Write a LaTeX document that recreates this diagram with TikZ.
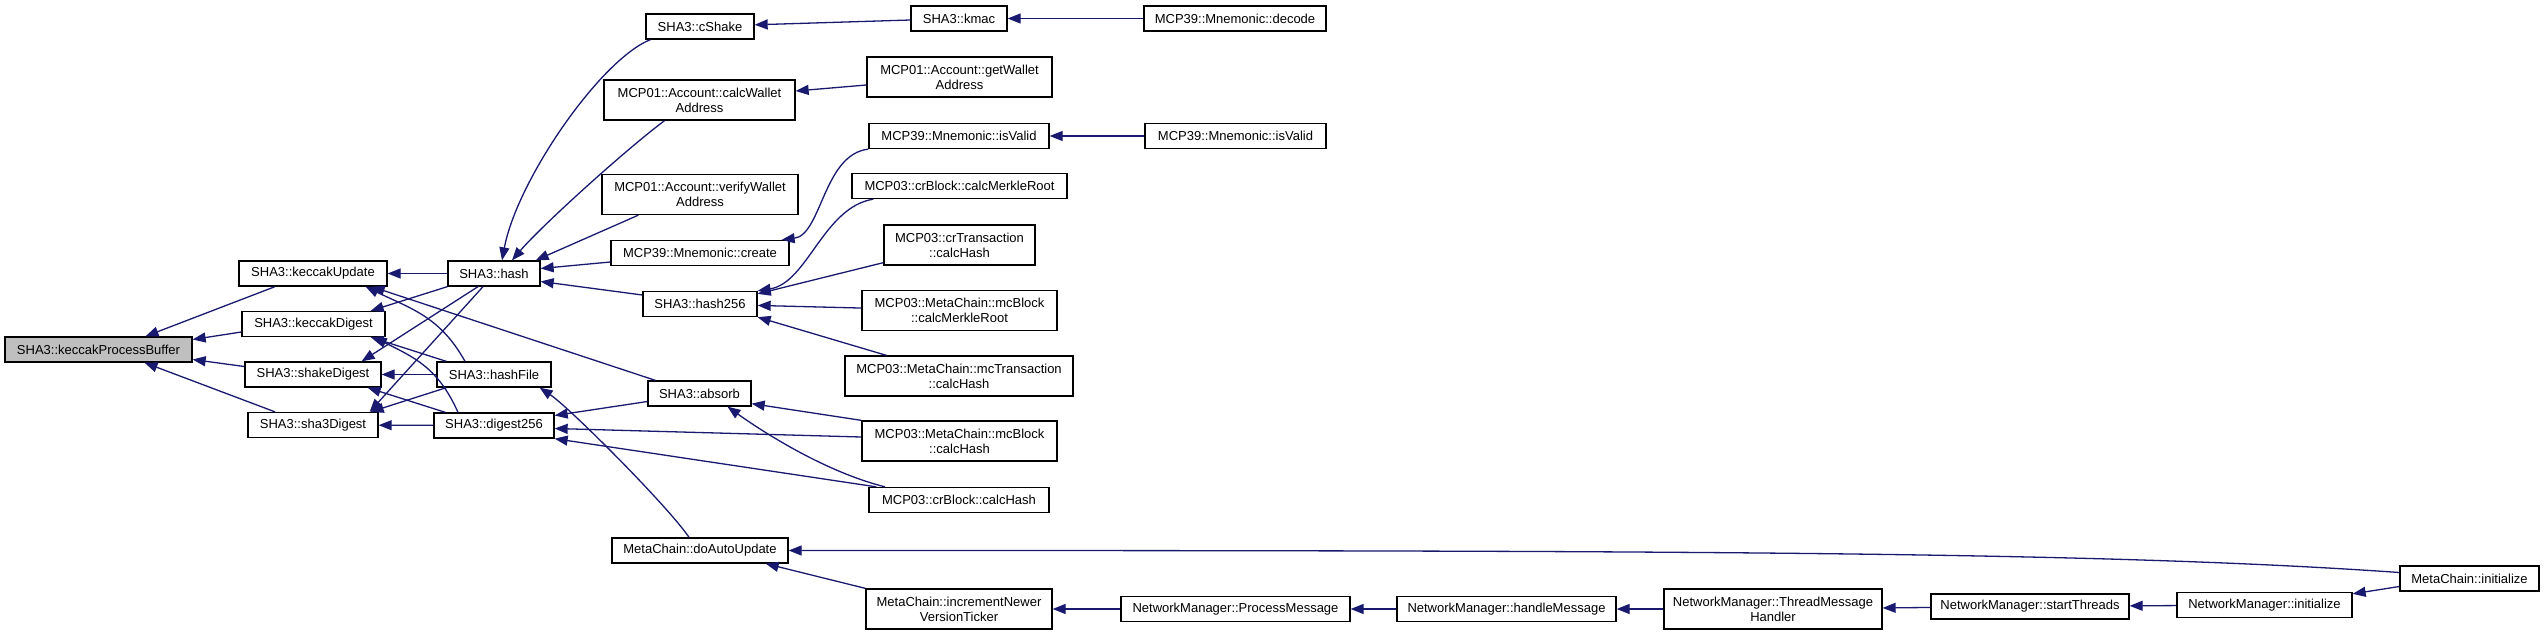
\documentclass[tikz,border=0pt]{standalone}
\usepackage{fontspec}
\setmainfont{Liberation Sans}
\usetikzlibrary{arrows.meta}
\definecolor{edgeblue}{RGB}{25,25,112}
\begin{document}
\begin{tikzpicture}[x=1pt,y=-1pt,
    fn/.style={draw=black,line width=1.3pt,fill=white,minimum height=25pt,inner sep=0pt,
      font=\fontsize{13}{15}\selectfont,align=center},
    fn2/.style={fn,minimum height=40pt},
    call/.style={draw=edgeblue,line width=1.3pt,-{Triangle[length=13pt,width=10pt]}}]
  \useasboundingbox (0,0) rectangle (2544,635);
  \node[fn,fill=gray!50,minimum width=187pt] (kpb) at (98.5,349.5) {SHA3::keccakProcessBuffer};
  \node[fn,minimum width=148pt] (kupd) at (313,273.5) {SHA3::keccakUpdate};
  \node[fn,minimum width=143pt] (kdig) at (313.5,324) {SHA3::keccakDigest};
  \node[fn,minimum width=136pt] (shk) at (313,374.5) {SHA3::shakeDigest};
  \node[fn,minimum width=130pt] (s3d) at (313,425) {SHA3::sha3Digest};
  \node[fn,minimum width=92pt] (hash) at (494,273.5) {SHA3::hash};
  \node[fn,minimum width=114pt] (hfile) at (494,374.5) {SHA3::hashFile};
  \node[fn,minimum width=120pt] (d256) at (494,425.5) {SHA3::digest256};
  \node[fn,minimum width=108pt] (cshake) at (700,26.5) {SHA3::cShake};
  \node[fn2,minimum width=191pt] (cwa) at (699.5,100) {MCP01::Account::calcWallet\\Address};
  \node[fn2,minimum width=196pt] (vwa) at (700,194.5) {MCP01::Account::verifyWallet\\Address};
  \node[fn,minimum width=178pt] (create) at (700,253) {MCP39::Mnemonic::create};
  \node[fn,minimum width=114pt] (h256) at (700,304) {SHA3::hash256};
  \node[fn,minimum width=103pt] (absorb) at (699.5,393.5) {SHA3::absorb};
  \node[fn,minimum width=176pt] (dau) at (700,550.5) {MetaChain::doAutoUpdate};
  \node[fn,minimum width=96pt] (kmac) at (959,18.5) {SHA3::kmac};
  \node[fn2,minimum width=185pt] (gwa) at (959.5,77) {MCP01::Account::getWallet\\Address};
  \node[fn,minimum width=180pt] (isv1) at (959,136) {MCP39::Mnemonic::isValid};
  \node[fn,minimum width=215pt] (crmr) at (959.5,186) {MCP03::crBlock::calcMerkleRoot};
  \node[fn2,minimum width=151pt] (crtx) at (959.5,245) {MCP03::crTransaction\\::calcHash};
  \node[fn2,minimum width=195pt] (mcmr) at (959.5,310.5) {MCP03::MetaChain::mcBlock\\::calcMerkleRoot};
  \node[fn2,minimum width=228pt] (mctx) at (959,376) {MCP03::MetaChain::mcTransaction\\::calcHash};
  \node[fn2,minimum width=195pt] (mcch) at (959.5,441) {MCP03::MetaChain::mcBlock\\::calcHash};
  \node[fn,minimum width=180pt] (crch) at (959,500) {MCP03::crBlock::calcHash};
  \node[fn2,minimum width=186pt] (inc) at (959,609) {MetaChain::incrementNewer\\VersionTicker};
  \node[fn,minimum width=182pt] (decode) at (1235,18.5) {MCP39::Mnemonic::decode};
  \node[fn,minimum width=181pt] (isv2) at (1235.5,136) {MCP39::Mnemonic::isValid};
  \node[fn,minimum width=229pt] (pmsg) at (1235.5,609) {NetworkManager::ProcessMessage};
  \node[fn,minimum width=219pt] (hmsg) at (1506.5,609) {NetworkManager::handleMessage};
  \node[fn2,minimum width=218pt] (tmh) at (1773,609) {NetworkManager::ThreadMessage\\Handler};
  \node[fn,minimum width=198pt] (sth) at (2030,606.5) {NetworkManager::startThreads};
  \node[fn,minimum width=175pt] (nmi) at (2264.5,605) {NetworkManager::initialize};
  \node[fn,minimum width=139pt] (mci) at (2469.5,578.5) {MetaChain::initialize};
  \draw[call] ([xshift=-38pt]kupd.south) -- ([xshift=47pt]kpb.north);
  \draw[call] ([yshift=-8pt]kdig.west) -- ([yshift=10pt]kpb.east);
  \draw[call] ([yshift=8pt]shk.west) -- ([yshift=-10pt]kpb.east);
  \draw[call] ([xshift=-38pt]s3d.north) -- ([xshift=46pt]kpb.south);
  \draw[call] (hash) -- (kupd);
  \draw[call] (hash.south west) -- ([xshift=-15pt]kdig.north east);
  \draw[call] ([xshift=-16pt]hash.south) -- ([xshift=-20pt]shk.north east);
  \draw[call] ([xshift=-11pt]hash.south) -- ([xshift=-9pt]s3d.north east);
  \draw[call] ([xshift=-29pt]hfile.north) .. controls +(-25,-45) and +(45,22) .. ([xshift=-22pt]kupd.south east);
  \draw[call] (hfile) -- (shk);
  \draw[call] ([xshift=10pt]hfile.north west) -- ([xshift=-15pt]kdig.south east);
  \draw[call] ([xshift=10pt]hfile.south west) -- ([xshift=-8pt]s3d.north east);
  \draw[call] ([xshift=-36pt]d256.north) .. controls +(-20,-45) and +(40,20) .. ([xshift=-12pt]kdig.south east);
  \draw[call] ([xshift=12pt]d256.north west) -- ([xshift=-14pt]shk.south east);
  \draw[call] (d256) -- (s3d);
  \draw[call] ([xshift=8pt]absorb.north west) -- ([xshift=-16pt]kupd.south east);
  \draw[call] ([yshift=-8pt]absorb.west) -- ([yshift=10pt]d256.east);
  \draw[call] (mcch.north west) -- ([yshift=3pt]absorb.south east);
  \draw[call] ([yshift=4pt]mcch.west) -- ([yshift=-3pt]d256.east);
  \draw[call] ([xshift=-74pt]crch.north) .. controls +(-60,-15) and +(35,25) .. ([xshift=28pt]absorb.south);
  \draw[call] ([xshift=8pt]crch.north west) -- (d256.south east);
  \draw[call] ([xshift=5pt]cshake.south west) .. controls +(-50,20) and +(15,-80) .. ([xshift=8pt]hash.north);
  \draw[call] ([xshift=-35pt]cwa.south) .. controls +(-40,30) and +(30,-35) .. ([xshift=18pt]hash.north);
  \draw[call] ([xshift=37pt]vwa.south west) -- ([xshift=-5pt]hash.north east);
  \draw[call] ([yshift=-9pt]create.west) -- ([yshift=5pt]hash.east);
  \draw[call] ([yshift=9pt]h256.west) -- ([yshift=-8pt]hash.east);
  \draw[call] (kmac) -- (cshake);
  \draw[call] (decode) -- (kmac);
  \draw[call] ([yshift=-8pt]gwa.west) -- ([yshift=9pt]cwa.east);
  \draw[call] (isv1.south west) .. controls +(-45,5) and +(40,-5) .. ([xshift=-8pt]create.north east);
  \draw[call] (isv2) -- (isv1);
  \draw[call] ([xshift=22pt]crmr.south west) .. controls +(-50,8) and +(50,-8) .. (h256.north east);
  \draw[call] ([yshift=3pt]crtx.south west) -- ([yshift=-3pt]h256.north east);
  \draw[call] (mcmr) -- (h256);
  \draw[call] ([xshift=42pt]mctx.north west) -- (h256.south east);
  \draw[call] ([xshift=-11pt]dau.north) .. controls +(-20,-30) and +(30,20) .. ([xshift=-12pt]hfile.south east);
  \draw[call] ([yshift=6pt]mci.west) .. controls +(-300,-21) and +(900,0) .. (dau.east);
  \draw[call] (inc.north west) -- ([xshift=-23pt]dau.south east);
  \draw[call] (pmsg) -- (inc);
  \draw[call] (hmsg) -- (pmsg);
  \draw[call] (tmh) -- (hmsg);
  \draw[call] (sth) -- (tmh);
  \draw[call] (nmi) -- (sth);
  \draw[call] ([yshift=-8pt]mci.west) -- ([yshift=-2pt]nmi.north east);
\end{tikzpicture}
\end{document}
